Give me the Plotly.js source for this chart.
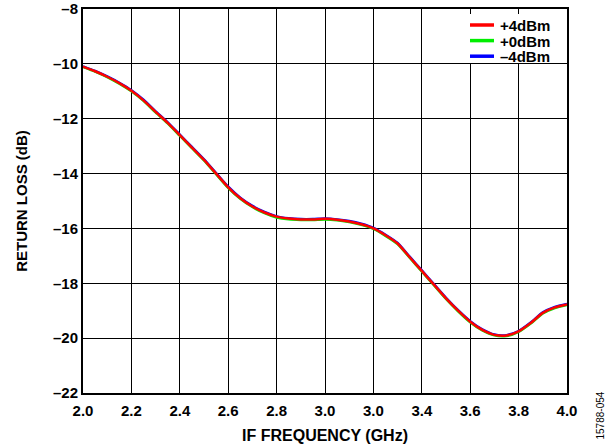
<!DOCTYPE html>
<html><head><meta charset="utf-8">
<script src="https://cdn.plot.ly/plotly-3.0.1.min.js"></script>
<style>body{margin:0;background:#fff}#c{width:614px;height:447px}</style>
</head><body><div id="c"></div>
<script>
const freq = [2.0, 2.05, 2.1, 2.15, 2.2, 2.25, 2.3, 2.35, 2.4, 2.45, 2.5, 2.55, 2.6, 2.65, 2.7, 2.75, 2.8, 2.85, 2.9, 2.95, 3.0, 3.05, 3.1, 3.15, 3.2, 3.25, 3.3, 3.35, 3.4, 3.45, 3.5, 3.55, 3.6, 3.65, 3.7, 3.75, 3.8, 3.85, 3.9, 3.95, 4.0];
const rlP4 = [-10.1, -10.27, -10.47, -10.7, -10.98, -11.33, -11.75, -12.15, -12.6, -13.05, -13.5, -14.0, -14.5, -14.9, -15.2, -15.42, -15.57, -15.64, -15.67, -15.67, -15.65, -15.68, -15.75, -15.85, -16.0, -16.25, -16.55, -17.05, -17.55, -18.05, -18.55, -19.0, -19.4, -19.7, -19.88, -19.9, -19.75, -19.45, -19.08, -18.88, -18.77];
const rlP0 = [-10.11, -10.28, -10.48, -10.72, -11.0, -11.35, -11.77, -12.17, -12.62, -13.07, -13.52, -14.02, -14.52, -14.92, -15.22, -15.44, -15.6, -15.67, -15.69, -15.69, -15.67, -15.7, -15.77, -15.87, -16.02, -16.27, -16.57, -17.07, -17.57, -18.07, -18.57, -19.02, -19.42, -19.72, -19.9, -19.92, -19.77, -19.47, -19.1, -18.9, -18.79];
const rlM4 = [-10.09, -10.26, -10.46, -10.69, -10.96, -11.31, -11.73, -12.13, -12.58, -13.03, -13.48, -13.98, -14.48, -14.88, -15.18, -15.4, -15.56, -15.63, -15.66, -15.66, -15.64, -15.67, -15.73, -15.83, -15.98, -16.23, -16.53, -17.03, -17.53, -18.03, -18.53, -18.98, -19.38, -19.68, -19.87, -19.89, -19.74, -19.43, -19.06, -18.86, -18.75];
const seriesNames = ['+4dBm', '+0dBm', '\u20134dBm'];
const seriesColors = ['#ff0000', '#00ee00', '#0000ff'];
const xTickVals = [2.0, 2.2, 2.4, 2.6, 2.8, 3.0, 3.2, 3.4, 3.6, 3.8, 4.0];
const xTickText = ['2.0', '2.2', '2.4', '2.6', '2.8', '3.0', '3.0', '3.4', '3.6', '3.8', '4.0'];
const yTickVals = [-22, -20, -18, -16, -14, -12, -10, -8];
const yTickText = ['\u201322', '\u201320', '\u201318', '\u201316', '\u201314', '\u201312', '\u201310', '\u20138'];

const W = 614, H = 447, ML = 83, MR = 47, MT = 9, MB = 54;
const PW = W - ML - MR, PH = H - MT - MB;
const px = v => (v - ML) / PW;          // pixel -> paper x
const py = v => 1 - (v - MT) / PH;      // pixel -> paper y

const F = 'Liberation Sans, Arial, sans-serif';
const ys = [rlP4, rlP0, rlM4];
const traces = ys.map((y, i) => ({x: freq, y: y, name: seriesNames[i], type: 'scatter', mode: 'lines',
  showlegend: false, line: {color: seriesColors[i], width: 2.5, shape: 'spline', smoothing: 0.6}}));
const plotData = [traces[2], traces[1], traces[0]];

// custom compact legend (row spacing like the reference)
const rowsY = [25, 40.6, 56.2];
const shapes = [{type: 'rect', xref: 'paper', yref: 'paper', x0: px(463), x1: px(565), y0: py(14), y1: py(63),
  fillcolor: '#fff', line: {width: 0}, layer: 'above'}];
seriesNames.forEach((n, i) => {
  shapes.push({type: 'line', xref: 'paper', yref: 'paper', x0: px(470), x1: px(494), y0: py(rowsY[i]), y1: py(rowsY[i]),
    line: {color: seriesColors[i], width: 3.5}, layer: 'above'});
});
const legendText = seriesNames.map(n => '<span style="font-size:15px"><b>' + n + '</b></span>').join('<br>');
const annotations = [{text: legendText, xref: 'paper', yref: 'paper', x: px(498), y: py(rowsY[1]),
  xanchor: 'left', yanchor: 'middle', align: 'left', showarrow: false, font: {family: F, size: 12, color: '#000'}}];
annotations.push({text: '15788-054', xref: 'paper', yref: 'paper', x: px(599.5), y: py(442),
  xanchor: 'center', yanchor: 'bottom', textangle: -90, showarrow: false,
  font: {family: F, size: 10, color: '#000'}});

const layout = {
  width: W, height: H,
  margin: {l: ML, r: MR, t: MT, b: MB},
  paper_bgcolor: '#fff', plot_bgcolor: '#fff',
  font: {family: F, color: '#000', size: 15},
  showlegend: false,
  xaxis: {range: [2.0, 4.0], tickvals: xTickVals, ticktext: xTickText,
    showgrid: true, gridcolor: '#000', gridwidth: 1, zeroline: false,
    showline: true, linecolor: '#000', linewidth: 2, mirror: true, ticks: '', ticklabelstandoff: 3,
    tickfont: {family: F, size: 15, weight: 'bold'},
    title: {text: 'IF FREQUENCY (GHz)', font: {family: F, size: 16, weight: 'bold'}, standoff: 12}},
  yaxis: {range: [-22, -8], tickvals: yTickVals, ticktext: yTickText,
    showgrid: true, gridcolor: '#000', gridwidth: 1, zeroline: false,
    showline: true, linecolor: '#000', linewidth: 2, mirror: true, ticks: '',
    tickfont: {family: F, size: 15, weight: 'bold'},
    title: {text: 'RETURN LOSS (dB)', font: {family: F, size: 15, weight: 'bold'}, standoff: 22}},
  shapes: shapes,
  annotations: annotations
};
Plotly.newPlot('c', plotData, layout, {displayModeBar: false, staticPlot: true});
</script></body></html>
